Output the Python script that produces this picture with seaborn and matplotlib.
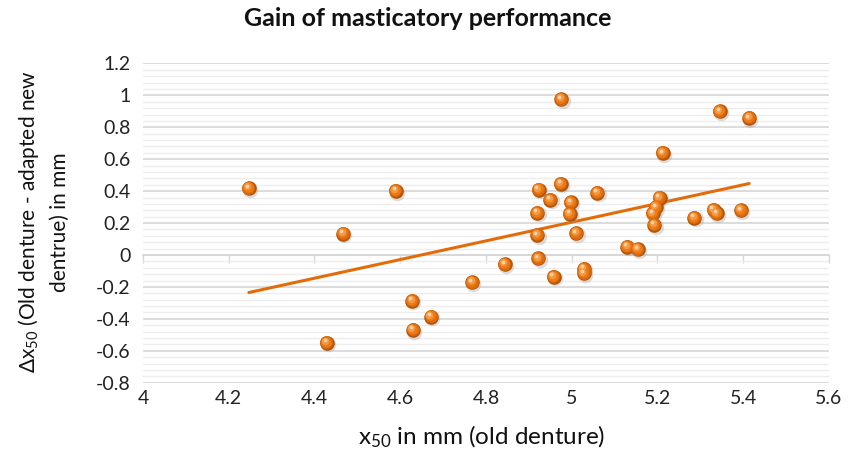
import numpy as np
import pandas as pd
import matplotlib
matplotlib.use("Agg")
import matplotlib.pyplot as plt
from matplotlib.transforms import offset_copy
from matplotlib.ticker import MultipleLocator
import seaborn as sns

# ---- data ----
x_old = [4.247, 4.429, 4.467, 4.590, 4.628, 4.630, 4.672, 4.768, 4.844,
         4.923, 4.975, 4.950, 4.998, 5.060, 4.920, 4.996, 4.920, 5.011,
         4.922, 4.958, 5.029, 5.029, 4.976, 5.346, 5.414, 5.213,
         5.205, 5.196, 5.189, 5.193, 5.286, 5.331, 5.339, 5.395, 5.154, 5.130]
gain = [0.418, -0.551, 0.134, 0.401, -0.286, -0.470, -0.386, -0.170, -0.058,
        0.410, 0.445, 0.345, 0.330, 0.390, 0.265, 0.257, 0.125, 0.136,
        -0.021, -0.136, -0.086, -0.115, 0.977, 0.900, 0.858, 0.639,
        0.360, 0.300, 0.260, 0.188, 0.234, 0.282, 0.260, 0.280, 0.037, 0.052]
x_ticks = [4, 4.2, 4.4, 4.6, 4.8, 5, 5.2, 5.4, 5.6]
x_tick_labels = ["4", "4.2", "4.4", "4.6", "4.8", "5", "5.2", "5.4", "5.6"]
y_ticks = [-0.8, -0.6, -0.4, -0.2, 0, 0.2, 0.4, 0.6, 0.8, 1, 1.2]
y_tick_labels = ["-0.8", "-0.6", "-0.4", "-0.2", "0", "0.2", "0.4", "0.6", "0.8", "1", "1.2"]
title = "Gain of masticatory performance"
xlabel = "x$_{50}$ in mm (old denture)"
ylabel = "\u0394x$_{50}$ (Old denture - adapted new\ndentrue) in mm"

df = pd.DataFrame({"x": x_old, "y": gain})

sns.set_theme(style="white")
plt.rcParams["font.family"] = ["Lato", "DejaVu Sans"]
plt.rcParams["mathtext.default"] = "regular"

fig = plt.figure(figsize=(8.56, 4.55), dpi=100)
ax = fig.add_axes([0.167, 0.159, 0.8014, 0.7015])

ax.set_xlim(4, 5.6)
ax.set_ylim(-0.8, 1.2)

# gridlines
ax.yaxis.set_major_locator(MultipleLocator(0.2))
ax.yaxis.set_minor_locator(MultipleLocator(0.04))
ax.grid(False)
ax.grid(axis="y", which="minor", color="#EDEDED", linewidth=1.0, zorder=0)
ax.grid(axis="y", which="major", color="#D6D6D6", linewidth=1.2, zorder=0)
ax.set_axisbelow(True)

for s in ["top", "right", "left"]:
    ax.spines[s].set_visible(False)
ax.spines["bottom"].set_position(("data", 0))
ax.spines["bottom"].set_color("#D6D6D6")
ax.spines["bottom"].set_linewidth(1.2)
ax.spines["bottom"].set_zorder(0.5)

ax.set_xticks(x_ticks)
ax.tick_params(axis="x", which="major", direction="out", length=6, width=1.0,
               color="#D6D6D6", labelbottom=False, bottom=True)
ax.set_yticks(y_ticks)
ax.set_yticklabels(y_tick_labels)
ax.tick_params(axis="y", which="both", length=0, pad=9, labelsize=14, labelcolor="#222222")

sec = ax.secondary_xaxis("bottom")
sec.spines["bottom"].set_visible(False)
sec.set_xticks(x_ticks)
sec.set_xticklabels(x_tick_labels)
sec.tick_params(axis="x", length=0, pad=5, labelsize=14, labelcolor="#222222")

# trend line (linear regression)
sns.regplot(data=df, x="x", y="y", ax=ax, scatter=False, ci=None, truncate=True,
            line_kws=dict(color="#E36C0A", linewidth=2.2, zorder=2))

# glossy sphere-like markers, layered
def layer(size, color, dx, dy, z, alpha=1.0):
    tr = offset_copy(ax.transData, fig=fig, x=dx, y=dy, units="points")
    sns.scatterplot(data=df, x="x", y="y", ax=ax, s=size, color=color, linewidth=0,
                    alpha=alpha, zorder=z, transform=tr, legend=False)

layer(125, "#9E9E9E", 0.9, -1.1, 3, alpha=0.35)
layer(110, "#B4560A", 0, 0, 4)
layer(86, "#D8690C", -0.4, 0.4, 5)
layer(57, "#EC7A16", -0.8, 0.8, 6)
layer(28, "#F59A44", -1.2, 1.3, 7)
layer(7, "#FCD3A8", -1.6, 1.8, 8)
ax.set_xlabel("")
ax.set_ylabel("")
ax.set_xlim(4, 5.6)
ax.set_ylim(-0.8, 1.2)

fig.text(0.5, 1 - 19 / 455, title, ha="center", va="center", fontsize=18,
         fontweight="bold", color="#111111")
fig.text(482 / 856, 1 - 437 / 455, xlabel, ha="center", va="center", fontsize=17.5,
         color="#111111")
fig.text(43 / 856, 1 - 222 / 455, ylabel, ha="center", va="center", fontsize=15,
         rotation=90, multialignment="center", color="#111111", linespacing=1.5)

fig.savefig("out.png", dpi=100)
